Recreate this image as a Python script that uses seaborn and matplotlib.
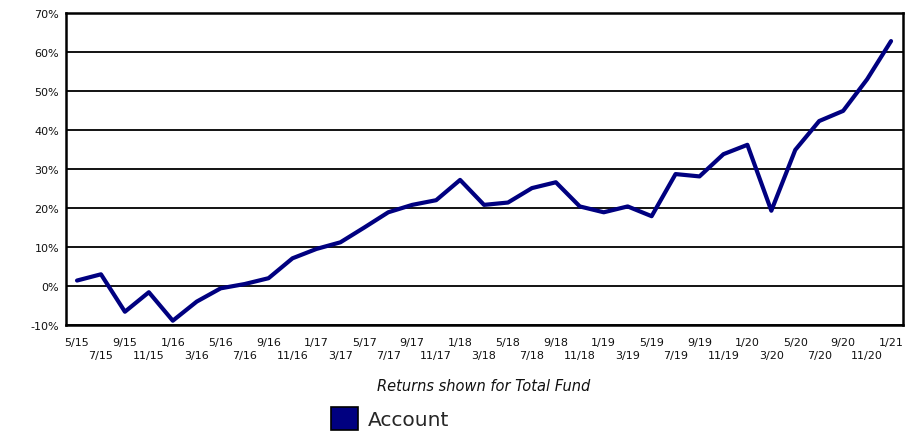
import numpy as np
import pandas as pd
import matplotlib
matplotlib.use("Agg")
import matplotlib.pyplot as plt
import matplotlib.transforms as mtransforms
import seaborn as sns
from matplotlib.patches import Patch

# Datos (rendimiento acumulado, %)
fechas = ['5/15', '7/15', '9/15', '11/15', '1/16', '3/16', '5/16', '7/16', '9/16', '11/16',
          '1/17', '3/17', '5/17', '7/17', '9/17', '11/17', '1/18', '3/18', '5/18', '7/18',
          '9/18', '11/18', '1/19', '3/19', '5/19', '7/19', '9/19', '11/19', '1/20', '3/20',
          '5/20', '7/20', '9/20', '11/20', '1/21']
rendimiento = [1.4, 3.0, -6.6, -1.6, -8.9, -4.0, -0.6, 0.5, 2.0, 7.1,
               9.5, 11.2, 15.0, 18.9, 20.8, 22.0, 27.2, 20.8, 21.4, 25.1,
               26.6, 20.4, 18.9, 20.4, 17.9, 28.7, 28.1, 33.8, 36.2, 19.3,
               34.9, 42.3, 44.9, 53.0, 62.8]
y_ticks = [-10, 0, 10, 20, 30, 40, 50, 60, 70]

df = pd.DataFrame({'Periodo': np.arange(len(fechas)), 'Rendimiento': rendimiento})

sns.set_theme(style="white")
plt.rcParams['font.family'] = ['DejaVu Sans']

fig = plt.figure(figsize=(9.22, 4.35), dpi=100)
ax = fig.add_axes([0.0716, 0.2506, 0.9078, 0.7172])

sns.lineplot(data=df, x='Periodo', y='Rendimiento', ax=ax, color='#000080', linewidth=3)

# Líneas horizontales de la cuadrícula
for v in y_ticks:
    ax.axhline(v, color='black', linewidth=1.3, zorder=0)

ax.set_xlim(-0.46, len(fechas) - 0.5)
ax.set_ylim(-10, 70)
ax.set_yticks(y_ticks)
ax.set_yticklabels([f'{v}%' for v in y_ticks], fontsize=8, color='#111111')

# Etiquetas alternadas en dos filas
ax.set_xticks(df['Periodo'])
ax.set_xticklabels(fechas, fontsize=8, color='#111111')
ax.tick_params(axis='x', length=0, pad=9)
ax.tick_params(axis='y', length=0, pad=5)
desplazamiento = mtransforms.ScaledTranslation(0, -13 / 100, fig.dpi_scale_trans)
for i, lab in enumerate(ax.get_xticklabels()):
    if i % 2 == 1:
        lab.set_transform(lab.get_transform() + desplazamiento)
ax.set_xlabel('')
ax.set_ylabel('')

for s in ax.spines.values():
    s.set_color('black')
    s.set_linewidth(1.8)

fig.text(0.525, 0.112, 'Returns shown for Total Fund', ha='center', va='center',
         fontsize=10.5, style='italic', color='#111111')

fig.legend(handles=[Patch(facecolor='#000080', edgecolor='black', linewidth=1.2, label='Account')],
           loc='center', bbox_to_anchor=(0.423, 0.035), frameon=False, fontsize=14.5,
           handlelength=1.35, handleheight=1.35, handletextpad=0.5, borderpad=0.1)

fig.savefig('out.png', dpi=100)
